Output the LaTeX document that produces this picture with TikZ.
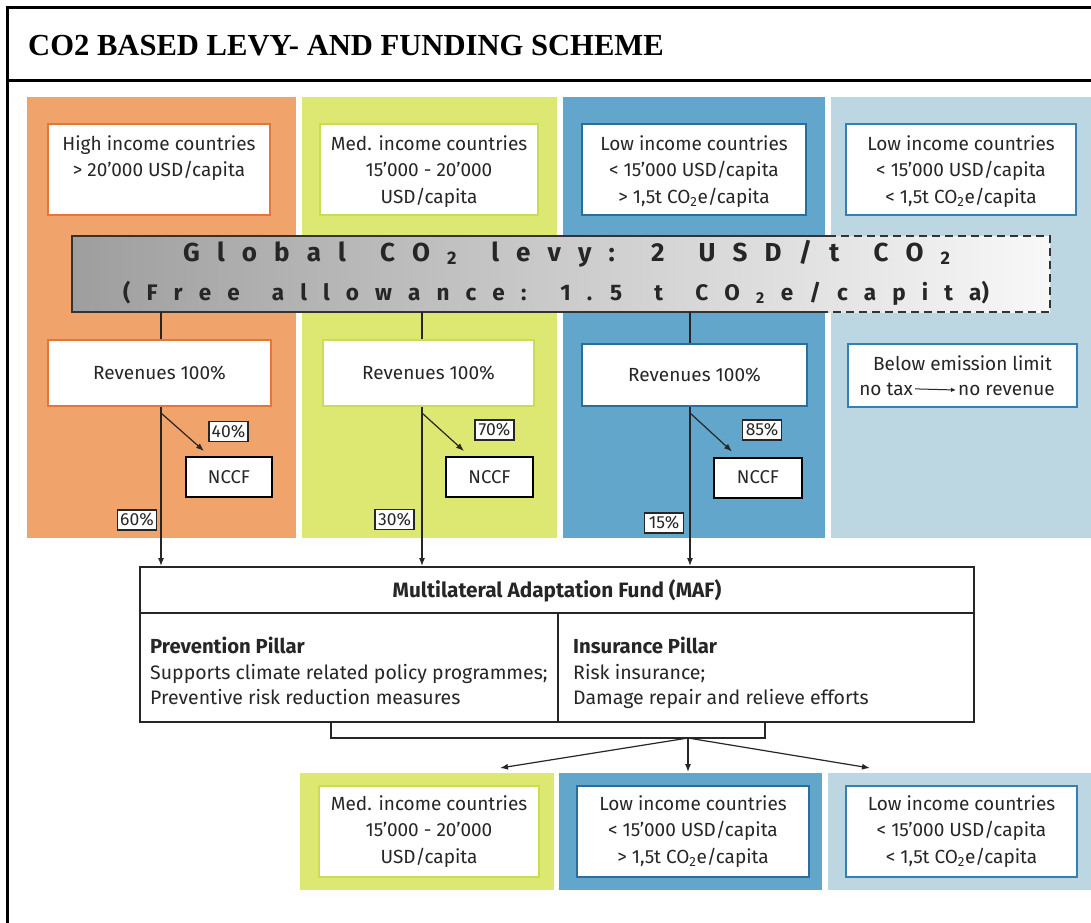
\documentclass[tikz,border=0pt]{standalone}
\usepackage{fontspec}
\setmainfont{Fira Sans}
\newfontfamily\titlefont{Liberation Serif}
\usetikzlibrary{arrows.meta}

\definecolor{corange}{HTML}{F0A36B}
\definecolor{borange}{HTML}{E5763A}
\definecolor{cyellow}{HTML}{DDE872}
\definecolor{byellow}{HTML}{C8DC55}
\definecolor{cblue}{HTML}{62A6CB}
\definecolor{bblue}{HTML}{2A6E9C}
\definecolor{clight}{HTML}{BCD6E2}
\definecolor{blight}{HTML}{3380B5}
\definecolor{ink}{HTML}{262626}
\definecolor{bandL}{HTML}{9E9E9E}
\definecolor{bandR}{HTML}{F8F8F8}
\definecolor{bandedge}{HTML}{333333}

\tikzset{
  frame/.style={draw=black, line width=3pt},
  cbox/.style={fill=white, draw=#1, line width=2pt, inner sep=0pt},
  body/.style={font=\fontsize{19}{26.5}\selectfont, text=ink, align=center, inner sep=0pt},
  pct/.style={draw=ink, fill=white, line width=1.3pt, text=ink,
    font=\fontsize{17.5}{20}\selectfont, inner sep=0pt, minimum width=39pt, minimum height=20pt},
  nccf/.style={draw=black, fill=white, line width=2pt, text=ink,
    font=\fontsize{18.5}{20}\selectfont, inner sep=0pt, minimum height=40pt},
  conn/.style={draw=ink, line width=1.2pt},
  arr/.style={conn, -{Latex[length=8pt,width=6pt]}},
  bandtext/.style={anchor=base west, inner sep=0pt, text=ink},
  bandline/.style={draw=bandedge, line width=2pt},
}

\begin{document}
\begin{tikzpicture}[x=1pt,y=-1pt]
\useasboundingbox (0,0) rectangle (1091,922);
\clip (0,0) rectangle (1091,922);
\fill[white] (0,0) rectangle (1091,922);

% frame and title
\draw[frame] (1100,7.5) -- (7.5,7.5) -- (7.5,930);
\draw[frame] (7.5,80) -- (1100,80);
\node[anchor=base west, inner sep=0pt, font=\titlefont\bfseries\fontsize{30.6}{34}\selectfont] (title) at (28,55.5) {CO2 BASED LEVY- AND FUNDING SCHEME};

% columns
\fill[corange] (27,97) rectangle (296,538);
\fill[cyellow] (302,97) rectangle (557,538);
\fill[cblue] (563,97) rectangle (825,538);
\fill[clight] (831,97) rectangle (1091,538);

% top boxes
\node[cbox=borange, minimum width=222pt, minimum height=91pt] (hi) at (159,169.5) {};
\node[cbox=byellow, minimum width=218pt, minimum height=91pt] (med) at (429,169.5) {};
\node[cbox=bblue, minimum width=224pt, minimum height=91pt] (low1) at (694,169.5) {};
\node[cbox=blight, minimum width=230pt, minimum height=91pt] (low2) at (961,169.5) {};
\node[body, anchor=north] (hit) at (159,135) {High income countries\\> 20’000 USD/capita};
\node[body, anchor=north] (medt) at (429,135) {Med. income countries\\15’000 - 20’000\\USD/capita};
\node[body, anchor=north] (low1t) at (694,135) {Low income countries\\< 15’000 USD/capita\\> 1,5t CO\textsubscript{2}e/capita};
\node[body, anchor=north] (low2t) at (961,135) {Low income countries\\< 15’000 USD/capita\\< 1,5t CO\textsubscript{2}e/capita};

% global levy band
\node[inner sep=0pt, minimum width=978pt, minimum height=76pt, left color=bandL, right color=bandR] (band) at (561,274) {};
\draw[bandline] (828,236) -- (72,236) -- (72,312) -- (828,312);
\draw[bandline, dash pattern=on 8pt off 5pt] (828,236) -- (1050,236) -- (1050,312) -- (828,312);
\node[bandtext, font=\bfseries\fontsize{26}{30}\selectfont] (lev1) at (183,261)
  {\spaceskip=17.1pt G l o b a l ~C O \textsubscript{2} ~l e v y : ~2 ~U S D / t ~C O \textsubscript{2}};
\node[bandtext, font=\bfseries\fontsize{22.5}{26}\selectfont] (lev2) at (123,300)
  {\spaceskip=16.1pt ( F r e e ~a l l o w a n c e : ~1 . 5 ~t ~C O \textsubscript{2} e / c a p i t a)};

% revenue boxes
\node[cbox=borange, minimum width=223pt, minimum height=66pt, body] (rev1) at (159.5,373) {Revenues 100\%};
\node[cbox=byellow, minimum width=211pt, minimum height=66pt, body] (rev2) at (428.5,373) {Revenues 100\%};
\node[cbox=bblue, minimum width=225pt, minimum height=62pt, body] (rev3) at (694.5,375) {Revenues 100\%};
\node[cbox=blight, minimum width=229pt, minimum height=63pt] (emis) at (962.5,375.5) {};
\node[body, anchor=base] (emis1) at (962.5,370) {Below emission limit};
\node[body, anchor=base east, inner xsep=2pt] (ntax) at (915,395) {no tax};
\node[body, anchor=base west, inner xsep=2pt] (nrev) at (956,395) {no revenue};
\draw[conn, line width=1pt, -{Latex[length=5pt,width=4.5pt]}] (ntax.east) -- (nrev.west);

% NCCF boxes
\node[nccf, minimum width=86pt] (n1) at (229,477) {NCCF};
\node[nccf, minimum width=87pt] (n2) at (489.5,477) {NCCF};
\node[nccf, minimum width=88pt] (n3) at (758,477.5) {NCCF};

% MAF box
\node[draw=ink, line width=2pt, fill=white, minimum width=834pt, minimum height=155pt, inner sep=0pt] (maf) at (557,644.5) {};
\draw[draw=ink, line width=2pt] (140,613) -- (974,613);
\draw[draw=ink, line width=1.5pt] (558,613) -- (558,722);
\node[body, font=\bfseries\fontsize{20.8}{26}\selectfont, anchor=base] (maft) at (557,597) {Multilateral Adaptation Fund (MAF)};
\node[body, font=\fontsize{19.5}{25.5}\selectfont, align=left, anchor=north west] (prev) at (150,637)
  {{\fontsize{20.3}{25.5}\selectfont\bfseries Prevention Pillar}\\Supports climate related policy programmes;\\Preventive risk reduction measures};
\node[body, font=\fontsize{19.5}{25.5}\selectfont, align=left, anchor=north west] (ins) at (573,637)
  {{\fontsize{20.3}{25.5}\selectfont\bfseries Insurance Pillar}\\Risk insurance;\\Damage repair and relieve efforts};

% connectors from band to revenues and MAF
\draw[conn] (161,312) -- (rev1.north -| 161,0);
\draw[conn] (422,312) -- (rev2.north -| 422,0);
\draw[conn] (690,312) -- (rev3.north -| 690,0);
\draw[arr] (rev1.south -| 161,0) -- (maf.north -| 161,0);
\draw[arr] (rev2.south -| 422,0) -- (maf.north -| 422,0);
\draw[arr] (rev3.south -| 690,0) -- (maf.north -| 690,0);
\coordinate (d1) at (161,413);
\coordinate (d2) at (422,413);
\coordinate (d3) at (690,413);
\draw[arr] (d1) -- ([xshift=19pt,yshift=5pt]n1.north west);
\draw[arr] (d2) -- ([xshift=19pt,yshift=5pt]n2.north west);
\draw[arr] (d3) -- ([xshift=19pt,yshift=5pt]n3.north west);

% percentage labels
\node[pct] (p40) at (228.5,431.5) {40\%};
\node[pct] (p60) at (137,520) {60\%};
\node[pct] (p70) at (494.5,430) {70\%};
\node[pct] (p30) at (394.5,519.5) {30\%};
\node[pct] (p85) at (762,430) {85\%};
\node[pct] (p15) at (664,523) {15\%};

% bottom panels
\fill[cyellow] (300,773) rectangle (554,890);
\fill[cblue] (559,773) rectangle (822,890);
\fill[clight] (828,773) rectangle (1091,890);
\node[cbox=byellow, minimum width=220pt, minimum height=91pt, body] (b1) at (429,831.5)
  {Med. income countries\\15’000 - 20’000\\USD/capita};
\node[cbox=bblue, minimum width=232pt, minimum height=91pt, body] (b2) at (693,831.5)
  {Low income countries\\< 15’000 USD/capita\\> 1,5t CO\textsubscript{2}e/capita};
\node[cbox=blight, minimum width=231pt, minimum height=91pt, body] (b3) at (961.5,831.5)
  {Low income countries\\< 15’000 USD/capita\\< 1,5t CO\textsubscript{2}e/capita};

% distribution from MAF
\coordinate (brl) at (331,738);
\coordinate (brr) at (765,738);
\coordinate (fork) at (688,738);
\draw[conn] (maf.south -| brl) -- (brl) -- (brr) -- (maf.south -| brr);
\draw[arr] (fork) -- (500,768);
\draw[arr] (fork) -- (688,772);
\draw[arr] (fork) -- (870,768);
\end{tikzpicture}
\end{document}
